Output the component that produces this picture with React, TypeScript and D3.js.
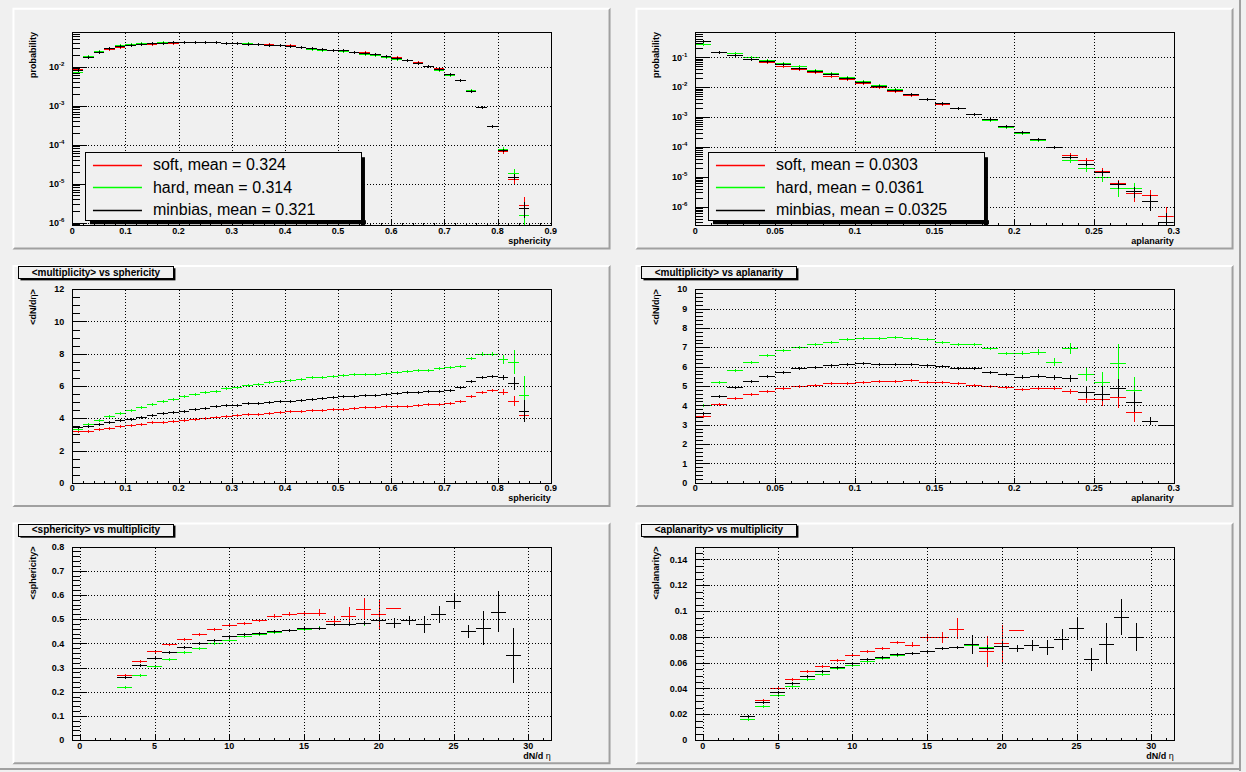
import React from 'react';
import * as d3 from 'd3';

const W = 1246;
const H = 772;
const BG = '#f0f0f0';
const DARK = '#a0a0a0';
const RED = '#ff0000';
const GREEN = '#00ff00';
const BLACK = '#000000';
const FONT = '"Liberation Sans", Arial, Helvetica, sans-serif';

// ---------- bin centres ----------
const sphCenters = [0.01,0.03,0.05,0.07,0.09,0.11,0.13,0.15,0.17,0.19,0.21,0.23,0.25,0.27,0.29,0.31,0.33,0.35,0.37,0.39,0.41,0.43,0.45,0.47,0.49,0.51,0.53,0.55,0.57,0.59,0.61,0.63,0.65,0.67,0.69,0.71,0.73,0.75,0.77,0.79,0.81,0.83,0.85];
const aplCenters = [0.005,0.015,0.025,0.035,0.045,0.055,0.065,0.075,0.085,0.095,0.105,0.115,0.125,0.135,0.145,0.155,0.165,0.175,0.185,0.195,0.205,0.215,0.225,0.235,0.245,0.255,0.265,0.275,0.285,0.295];
const multCenters = [3,4,5,6,7,8,9,10,11,12,13,14,15,16,17,18,19,20,21,22,23,24,25,26,27,28,29];

// ---------- panel 1: sphericity distribution ----------
const sphDistSoft = [0.0086,0.0176,0.0232,0.0283,0.0322,0.0350,0.0372,0.0387,0.0408,0.0410,0.0425,0.0427,0.0427,0.0425,0.0409,0.0397,0.0385,0.0376,0.0378,0.0357,0.0358,0.0328,0.0308,0.0290,0.0274,0.0262,0.0245,0.0240,0.0210,0.0185,0.0176,0.0146,0.0134,0.0107,0.0093,0.0066,0.00446,0.00243,0.00093,0.000295,0.000068,0.000013,0.0000028];
const sphDistHard = [0.0075,0.0186,0.0247,0.0305,0.0352,0.0378,0.0397,0.0415,0.0425,0.0424,0.0425,0.0427,0.0427,0.0425,0.0409,0.0397,0.0395,0.0385,0.0366,0.0357,0.0345,0.0312,0.0292,0.0276,0.0262,0.0250,0.0232,0.0216,0.0198,0.0178,0.0160,0.0146,0.0127,0.0105,0.0082,0.0061,0.00444,0.00250,0.00095,0.000305,0.000077,0.0000185,0.0000016];
const sphDistMin = [0.0080,0.0178,0.0245,0.0293,0.0338,0.0364,0.0385,0.0400,0.0414,0.0422,0.0425,0.0427,0.0427,0.0425,0.0409,0.0397,0.0385,0.0376,0.0366,0.0357,0.0345,0.0328,0.0308,0.0290,0.0274,0.0262,0.0245,0.0228,0.0210,0.0185,0.0166,0.0146,0.0127,0.0107,0.0087,0.0064,0.00445,0.00244,0.00094,0.000300,0.000071,0.000015,0.0000024];
const sphDistSoftRelErr = [0.02,0.01,0.01,0.01,0.01,0.01,0.01,0.01,0.01,0.01,0.01,0.01,0.01,0.01,0.01,0.01,0.01,0.01,0.01,0.01,0.01,0.01,0.01,0.01,0.01,0.01,0.01,0.01,0.01,0.01,0.01,0.01,0.01,0.01,0.01,0.01,0.015,0.02,0.04,0.07,0.15,0.3,0.6];
const sphDistHardRelErr = [0.02,0.01,0.01,0.01,0.01,0.01,0.01,0.01,0.01,0.01,0.01,0.01,0.01,0.01,0.01,0.01,0.01,0.01,0.01,0.01,0.01,0.01,0.01,0.01,0.01,0.01,0.01,0.01,0.01,0.01,0.01,0.01,0.01,0.01,0.01,0.01,0.02,0.02,0.04,0.07,0.12,0.25,0.7];
const sphDistMinRelErr = [0.02,0.01,0.01,0.01,0.01,0.01,0.01,0.01,0.01,0.01,0.01,0.01,0.01,0.01,0.01,0.01,0.01,0.01,0.01,0.01,0.01,0.01,0.01,0.01,0.01,0.01,0.01,0.01,0.01,0.01,0.01,0.01,0.01,0.01,0.01,0.01,0.015,0.02,0.03,0.05,0.08,0.18,0.45];

// ---------- panel 2: aplanarity distribution ----------
const aplDistSoft = [0.36,0.155,0.120,0.088,0.068,0.050,0.041,0.0322,0.0231,0.0188,0.0142,0.0104,0.0075,0.0057,0.0040,0.0028,0.00196,0.00124,0.00084,0.00051,0.000325,0.000185,0.0001,0.000054,0.0000356,0.000016,0.000006,0.00000295,0.0000024,0.00000049];
const aplDistHard = [0.272,0.155,0.136,0.105,0.081,0.066,0.0526,0.0377,0.0307,0.0226,0.0166,0.0122,0.0089,0.0059,0.0041,0.0030,0.00197,0.00125,0.00083,0.00048,0.000295,0.000165,0.0001,0.000037,0.00002,0.00001,0.0000041,0.0000041,null,null];
const aplDistMin = [0.34,0.155,0.117,0.089,0.075,0.058,0.0428,0.034,0.0277,0.0198,0.0149,0.0110,0.0079,0.0058,0.0040,0.0029,0.00196,0.00124,0.00084,0.00050,0.00031,0.00018,0.0001,0.000047,0.000028,0.000014,0.0000057,0.0000033,0.00000155,0.00000032];
const aplDistSoftRelErr = [0.01,0.01,0.01,0.01,0.01,0.01,0.01,0.01,0.01,0.01,0.01,0.01,0.01,0.01,0.01,0.01,0.01,0.01,0.01,0.01,0.01,0.01,0.05,0.15,0.17,0.22,0.35,0.5,0.5,1.0];
const aplDistHardRelErr = [0.01,0.01,0.01,0.01,0.01,0.01,0.01,0.01,0.01,0.01,0.01,0.01,0.01,0.01,0.01,0.01,0.01,0.01,0.01,0.01,0.05,0.08,0.1,0.2,0.28,0.33,0.5,0.5,0,0];
const aplDistMinRelErr = [0.01,0.01,0.01,0.01,0.01,0.01,0.01,0.01,0.01,0.01,0.01,0.01,0.01,0.01,0.01,0.01,0.01,0.01,0.01,0.01,0.01,0.03,0.05,0.12,0.2,0.25,0.3,0.4,0.55,1.0];

// ---------- panel 3: <multiplicity> vs sphericity ----------
const multSphSoft = [3.19,3.23,3.32,3.40,3.52,3.61,3.67,3.75,3.79,3.85,3.90,3.96,4.02,4.08,4.15,4.21,4.27,4.29,4.33,4.37,4.44,4.46,4.50,4.54,4.56,4.60,4.64,4.68,4.70,4.75,4.77,4.79,4.85,4.89,4.91,4.95,5.06,5.35,5.64,5.74,5.64,5.08,4.19];
const multSphHard = [3.36,3.67,3.90,4.15,4.33,4.50,4.70,4.89,5.06,5.20,5.39,5.49,5.62,5.70,5.87,5.95,6.05,6.13,6.22,6.32,6.38,6.45,6.53,6.57,6.63,6.69,6.72,6.76,6.76,6.82,6.86,6.92,6.98,6.98,7.11,7.17,7.25,7.71,7.98,7.98,7.65,7.50,5.47];
const multSphMin = [3.44,3.55,3.62,3.75,3.88,3.97,4.10,4.20,4.30,4.40,4.46,4.55,4.65,4.74,4.80,4.85,4.92,4.97,5.02,5.07,5.10,5.16,5.22,5.26,5.30,5.35,5.38,5.42,5.47,5.52,5.56,5.60,5.63,5.67,5.72,5.78,5.91,6.28,6.57,6.61,6.53,6.16,4.46];
const multSphSoftErr = [0.02,0.02,0.02,0.02,0.02,0.02,0.02,0.02,0.02,0.02,0.02,0.02,0.02,0.02,0.02,0.02,0.02,0.02,0.02,0.02,0.02,0.02,0.02,0.02,0.02,0.02,0.02,0.02,0.02,0.02,0.02,0.02,0.02,0.02,0.02,0.02,0.02,0.02,0.05,0.08,0.2,0.3,0.45];
const multSphHardErr = [0.02,0.02,0.02,0.02,0.02,0.02,0.02,0.02,0.02,0.02,0.02,0.02,0.02,0.02,0.02,0.02,0.02,0.02,0.02,0.02,0.02,0.02,0.02,0.02,0.02,0.02,0.02,0.02,0.02,0.02,0.02,0.02,0.02,0.02,0.02,0.02,0.04,0.06,0.1,0.15,0.3,0.73,1.14];
const multSphMinErr = [0.02,0.02,0.02,0.02,0.02,0.02,0.02,0.02,0.02,0.02,0.02,0.02,0.02,0.02,0.02,0.02,0.02,0.02,0.02,0.02,0.02,0.02,0.02,0.02,0.02,0.02,0.02,0.02,0.02,0.02,0.02,0.02,0.02,0.02,0.02,0.02,0.02,0.04,0.06,0.08,0.15,0.4,0.7];

// ---------- panel 4: <multiplicity> vs aplanarity ----------
const multAplSoft = [3.45,4.08,4.39,4.59,4.75,4.90,5.01,5.06,5.16,5.16,5.22,5.25,5.25,5.30,5.22,5.22,5.16,5.06,5.01,4.96,4.85,4.90,4.90,4.72,4.32,4.32,4.44,3.66,null,null];
const multAplHard = [4.04,5.22,5.84,6.25,6.58,6.84,7.03,7.18,7.29,7.41,7.46,7.46,7.51,7.46,7.41,7.29,7.15,7.18,6.98,6.72,6.72,6.77,6.25,6.94,5.61,5.22,6.20,4.80,null,null];
const multAplMin = [3.59,4.49,4.97,5.27,5.53,5.73,5.91,5.99,6.10,6.15,6.20,6.15,6.15,6.15,6.10,6.04,5.91,5.91,5.72,5.60,5.49,5.53,5.44,5.39,4.70,4.61,4.90,4.18,3.20,3.00];
const multAplSoftErr = [0.02,0.02,0.02,0.02,0.02,0.02,0.02,0.02,0.02,0.02,0.02,0.02,0.02,0.02,0.02,0.02,0.02,0.02,0.02,0.02,0.02,0.06,0.1,0.15,0.2,0.35,0.6,0.5,0,0];
const multAplHardErr = [0.02,0.02,0.02,0.02,0.02,0.02,0.02,0.02,0.02,0.02,0.02,0.02,0.02,0.02,0.02,0.02,0.02,0.02,0.05,0.06,0.1,0.15,0.2,0.3,0.35,0.5,0.95,0.65,0,0];
const multAplMinErr = [0.02,0.02,0.02,0.02,0.02,0.02,0.02,0.02,0.02,0.02,0.02,0.02,0.02,0.02,0.02,0.02,0.02,0.02,0.02,0.06,0.07,0.1,0.15,0.2,0.3,0.4,0.45,0.5,0.2,0];

// ---------- panel 5: <sphericity> vs multiplicity ----------
const sphMultSoft = [0.269,0.329,0.367,0.399,0.419,0.440,0.458,0.474,0.485,0.498,0.515,0.520,0.524,0.526,0.493,0.515,0.543,0.520,0.548];
const sphMultHard = [0.218,0.271,0.308,0.337,0.363,0.382,0.400,0.415,0.429,0.437,0.445,0.454,0.460,0.465,0.480,0.478,0.483];
const sphMultMin = [0.262,0.309,0.341,0.366,0.385,0.403,0.415,0.429,0.437,0.444,0.452,0.456,0.462,0.465,0.481,0.481,0.485,0.498,0.485,0.495,0.478,0.520,0.576,0.449,0.465,0.531,0.350];
const sphMultSoftErr = [0.002,0.002,0.002,0.002,0.002,0.002,0.002,0.003,0.003,0.004,0.006,0.008,0.01,0.015,0.018,0.035,0.045,0.065,0];
const sphMultHardErr = [0.002,0.002,0.002,0.002,0.002,0.002,0.002,0.002,0.002,0.002,0.003,0.003,0.004,0.005,0.006,0.008,0.01];
const sphMultMinErr = [0.002,0.002,0.002,0.002,0.002,0.002,0.002,0.002,0.002,0.002,0.002,0.002,0.003,0.004,0.005,0.008,0.008,0.01,0.02,0.02,0.035,0.035,0.03,0.025,0.07,0.085,0.115];

// ---------- panel 6: <aplanarity> vs multiplicity ----------
const aplMultSoft = [0.0189,0.0307,0.0400,0.0473,0.0532,0.0576,0.0617,0.0656,0.0687,0.0710,0.0757,0.0739,0.0796,0.0796,0.0863,null,0.0687,0.0749,0.0850];
const aplMultHard = [0.0160,0.0261,0.0346,0.0416,0.0473,0.0509,0.0555,0.0579,0.0612,0.0635,0.0659,0.0674,0.0687,0.0710,0.0721,0.0735,0.0725];
const aplMultMin = [0.0183,0.0292,0.0375,0.0442,0.0493,0.0532,0.0568,0.0597,0.0625,0.0641,0.0664,0.0674,0.0687,0.0710,0.0721,0.0741,0.0716,0.0728,0.0710,0.0734,0.0718,0.0780,0.0865,0.0625,0.0747,0.0951,0.0801];
const aplMultSoftErr = [0.0003,0.0003,0.0003,0.0003,0.0003,0.0003,0.0003,0.0003,0.0003,0.0003,0.001,0.002,0.003,0.004,0.008,0,0.012,0.014,0];
const aplMultHardErr = [0.0003,0.0003,0.0003,0.0003,0.0003,0.0003,0.0003,0.0003,0.0003,0.0003,0.0003,0.0003,0.0005,0.0006,0.0008,0.001,0.0015];
const aplMultMinErr = [0.0003,0.0003,0.0003,0.0003,0.0003,0.0003,0.0003,0.0003,0.0003,0.0003,0.0003,0.0003,0.0003,0.0005,0.0008,0.007,0.002,0.003,0.003,0.004,0.006,0.008,0.009,0.009,0.016,0.014,0.011];

// ---------- axis labels ----------
const sphTicks = [0,0.1,0.2,0.3,0.4,0.5,0.6,0.7,0.8,0.9];
const sphTickLabels = ['0','0.1','0.2','0.3','0.4','0.5','0.6','0.7','0.8','0.9'];
const aplTicks = [0,0.05,0.1,0.15,0.2,0.25,0.3];
const aplTickLabels = ['0','0.05','0.1','0.15','0.2','0.25','0.3'];
const multTicks = [0,5,10,15,20,25,30];
const multTickLabels = ['0','5','10','15','20','25','30'];
const logTicks1 = [1e-6,1e-5,1e-4,1e-3,1e-2];
const logExp1 = ['-6','-5','-4','-3','-2'];
const logTicks2 = [1e-6,1e-5,1e-4,1e-3,1e-2,1e-1];
const logExp2 = ['-6','-5','-4','-3','-2','-1'];
const mult12Ticks = [0,2,4,6,8,10,12];
const mult10Ticks = [0,1,2,3,4,5,6,7,8,9,10];
const sphMeanTicks = [0,0.1,0.2,0.3,0.4,0.5,0.6,0.7,0.8];
const sphMeanLabels = ['0','0.1','0.2','0.3','0.4','0.5','0.6','0.7','0.8'];
const aplMeanTicks = [0,0.02,0.04,0.06,0.08,0.1,0.12,0.14];
const aplMeanLabels = ['0','0.02','0.04','0.06','0.08','0.1','0.12','0.14'];
const legend1 = ['soft, mean = 0.324','hard, mean = 0.314','minbias, mean = 0.321'];
const legend2 = ['soft, mean = 0.0303','hard, mean = 0.0361','minbias, mean = 0.0325'];
const seriesColors = [RED, GREEN, BLACK];

interface Series { centers: number[]; values: (number | null)[]; errors: number[]; rel?: boolean; color: string; }
interface PanelProps {
  col: number; row: number;
  xDomain: [number, number]; binWidth: number;
  xMajor: number[]; xLabels: string[]; xMinorStep: number; xTitle: React.ReactNode;
  yDomain: [number, number]; logY?: boolean;
  yMajor: number[]; yLabels: React.ReactNode[]; yMinorStep?: number; yTitle: React.ReactNode;
  series: Series[]; title?: string; legend?: string[];
}

const cr = (v: number) => Math.round(v) + 0.5;

function linTicks(d: [number, number], step: number) {
  const out: number[] = [];
  const start = Math.ceil(d[0] / step - 1e-9);
  const end = Math.floor(d[1] / step + 1e-9);
  for (let i = start; i <= end; i++) out.push(+(i * step).toFixed(10));
  return out;
}

function logMinor(d: [number, number]) {
  const out: number[] = [];
  for (let e = Math.floor(Math.log10(d[0])); e <= Math.ceil(Math.log10(d[1])); e++) {
    for (let k = 2; k <= 9; k++) {
      const v = k * Math.pow(10, e);
      if (v >= d[0] && v <= d[1]) out.push(v);
    }
  }
  return out;
}

function Panel(p: PanelProps) {
  const pw = 0.48 * W;
  const ph = H * (1 / 3 - 0.02);
  const px = W * (p.col === 0 ? 0.01 : 0.51);
  const py = H * (p.row / 3 + 0.01);
  const fx0 = px + 0.1 * pw, fx1 = px + 0.9 * pw;
  const fy0 = py + 0.1 * ph, fy1 = py + 0.9 * ph;
  const x = d3.scaleLinear().domain(p.xDomain).range([fx0, fx1]);
  const y: any = p.logY
    ? d3.scaleLog().domain(p.yDomain).range([fy1, fy0])
    : d3.scaleLinear().domain(p.yDomain).range([fy1, fy0]);
  const clipId = `clip-${p.row}-${p.col}`;
  const xTickLen = 0.03 * (fy1 - fy0);
  const yTickLen = 0.03 * (fx1 - fx0);
  const xMinor = linTicks(p.xDomain, p.xMinorStep);
  const yMinor = p.logY ? logMinor(p.yDomain) : linTicks(p.yDomain, p.yMinorStep || 1);
  const L = Math.round(fx0) + 0.5, R = Math.round(fx1) + 0.5, T = Math.round(fy0) + 0.5, B = Math.round(fy1) + 0.5;

  return (
    <g>
      {/* pad */}
      <rect x={px} y={py} width={pw} height={ph} fill={BG} />
      <path d={`M${px},${py}h${pw}l-2,2h${-(pw - 4)}v${ph - 4}l-2,2z`} fill="#ffffff" />
      <path d={`M${px + pw},${py + ph}h${-pw}l2,-2h${pw - 4}v${-(ph - 4)}l2,-2z`} fill={DARK} />
      <defs>
        <clipPath id={clipId}><rect x={fx0} y={fy0} width={fx1 - fx0} height={fy1 - fy0} /></clipPath>
      </defs>
      {/* series */}
      <g clipPath={`url(#${clipId})`} fill="none" strokeWidth={1} shapeRendering="crispEdges">
        {p.series.map((s, si) => (
          <g key={si} stroke={s.color}>
            {s.values.map((v, i) => {
              if (v == null) return null;
              const c = s.centers[i];
              const e = s.rel ? v * s.errors[i] : s.errors[i];
              const yv = cr(y(v));
              const xl = x(c - p.binWidth / 2), xr = x(c + p.binWidth / 2), xc = cr(x(c));
              let yTop = y(v + e);
              let yBot = v - e > p.yDomain[0] ? y(v - e) : fy1 + 2;
              if (e > 0) {
                yTop = Math.min(yTop, yv - 1.5);
                yBot = Math.max(yBot, yv + 1.5);
              }
              return (
                <g key={i}>
                  <line x1={Math.round(xl)} x2={Math.round(xr)} y1={yv} y2={yv} />
                  {e > 0 && <line x1={xc} x2={xc} y1={Math.round(yTop)} y2={Math.round(yBot)} />}
                </g>
              );
            })}
          </g>
        ))}
      </g>
      {/* grid */}
      <g stroke="#000" strokeWidth={1} strokeDasharray="1 2" shapeRendering="crispEdges">
        {p.xMajor.map((v, i) => (
          <line key={'gx' + i} x1={cr(x(v))} x2={cr(x(v))} y1={T} y2={B} />
        ))}
        {p.yMajor.map((v, i) => (
          <line key={'gy' + i} x1={L} x2={R} y1={cr(y(v))} y2={cr(y(v))} />
        ))}
      </g>
      {/* frame */}
      <rect x={L} y={T} width={R - L} height={B - T} fill="none" stroke="#000" strokeWidth={1} shapeRendering="crispEdges" />
      {/* ticks */}
      <g stroke="#000" strokeWidth={1} shapeRendering="crispEdges">
        {xMinor.map((v, i) => (
          <line key={'xm' + i} x1={cr(x(v))} x2={cr(x(v))} y1={B} y2={B - xTickLen / 2} />
        ))}
        {p.xMajor.map((v, i) => (
          <line key={'xM' + i} x1={cr(x(v))} x2={cr(x(v))} y1={B} y2={B - xTickLen} />
        ))}
        {yMinor.map((v, i) => (
          <line key={'ym' + i} x1={L} x2={L + yTickLen / 2} y1={cr(y(v))} y2={cr(y(v))} />
        ))}
        {p.yMajor.map((v, i) => (
          <line key={'yM' + i} x1={L} x2={L + yTickLen} y1={cr(y(v))} y2={cr(y(v))} />
        ))}
      </g>
      {/* labels */}
      <g fontFamily={FONT} fontWeight="bold" fontSize={9} fill="#000">
        {p.xMajor.map((v, i) => (
          <text key={'xl' + i} x={x(v)} y={fy1 + 8.5} textAnchor="middle">{p.xLabels[i]}</text>
        ))}
        {p.yMajor.map((v, i) => (
          <text key={'yl' + i} x={fx0 - 8} y={y(v) + 3.2} textAnchor="end">{p.yLabels[i]}</text>
        ))}
        <text x={fx1} y={fy1 + 18.5} textAnchor="end">{p.xTitle}</text>
        <text transform={`translate(${px + 24},${fy0}) rotate(-90)`} textAnchor="end">{p.yTitle}</text>
      </g>
      {/* title */}
      {p.title && (() => {
        const bx = px + 0.01 * pw, by = py + 0.005 * ph, bw = 155, bh = 0.05 * ph;
        return (
          <g>
            <rect x={bx + 2} y={by + 2} width={bw} height={bh} fill="#000" />
            <rect x={Math.round(bx) + 0.5} y={Math.round(by) + 0.5} width={bw} height={Math.round(bh)} fill={BG} stroke="#000" strokeWidth={1} shapeRendering="crispEdges" />
            <text x={bx + bw / 2} y={by + bh / 2 + 3.7} textAnchor="middle" fontFamily={FONT} fontWeight="bold" fontSize={10}>{p.title}</text>
          </g>
        );
      })()}
      {/* legend */}
      {p.legend && (() => {
        const bx0 = px + 72.5, bx1 = px + 348.5, by0 = py + 144.5, by1 = py + 212.5;
        const rowH = (by1 - by0) / 3;
        return (
          <g>
            <rect x={bx0 + 5} y={by1} width={bx1 - bx0} height={4} fill="#000" />
            <rect x={bx1} y={by0 + 5} width={4} height={by1 - by0} fill="#000" />
            <rect x={Math.round(bx0) + 0.5} y={Math.round(by0) + 0.5} width={Math.round(bx1 - bx0)} height={Math.round(by1 - by0)} fill={BG} stroke="#000" strokeWidth={1} shapeRendering="crispEdges" />
            {p.legend.map((t, i) => {
              const cy = by0 + rowH * (i + 0.5) + 1;
              return (
                <g key={i}>
                  <line x1={bx0 + 8} x2={bx0 + 57} y1={cr(cy)} y2={cr(cy)} stroke={seriesColors[i]} strokeWidth={1.3} />
                  <text x={bx0 + 68} y={cy + 5.6} fontFamily={FONT} fontSize={16} fill="#000">{t}</text>
                </g>
              );
            })}
          </g>
        );
      })()}
    </g>
  );
}

function mk(centers: number[], vals: (number | null)[], errs: number[], color: string, rel = false): Series {
  return { centers, values: vals, errors: errs, color, rel };
}

const pow10 = (e: string) => (
  <>
    10<tspan fontSize={6} dy={-4}>{e}</tspan>
  </>
);

const eta = <tspan fontWeight="normal">η</tspan>;

export default function App() {
  return (
    <div style={{ position: 'fixed', left: 0, top: 0, width: W, height: H }}>
      <svg width={W} height={H} viewBox={`0 0 ${W} ${H}`} style={{ display: 'block' }}>
        <rect x={0} y={0} width={W} height={H} fill={BG} />
        <rect x={1239} y={0} width={2} height={771} fill={DARK} />
        <rect x={0} y={768} width={1241} height={2} fill={DARK} />
        <Panel
          col={0} row={0}
          xDomain={[0, 0.9]} binWidth={0.02}
          xMajor={sphTicks} xLabels={sphTickLabels} xMinorStep={0.02} xTitle="sphericity"
          yDomain={[8.5e-7, 0.078]} logY
          yMajor={logTicks1} yLabels={logExp1.map(pow10)} yTitle="probability"
          series={[
            mk(sphCenters, sphDistSoft, sphDistSoftRelErr, RED, true),
            mk(sphCenters, sphDistHard, sphDistHardRelErr, GREEN, true),
            mk(sphCenters, sphDistMin, sphDistMinRelErr, BLACK, true),
          ]}
          legend={legend1}
        />
        <Panel
          col={1} row={0}
          xDomain={[0, 0.3]} binWidth={0.01}
          xMajor={aplTicks} xLabels={aplTickLabels} xMinorStep={0.01} xTitle="aplanarity"
          yDomain={[2.37e-7, 0.71]} logY
          yMajor={logTicks2} yLabels={logExp2.map(pow10)} yTitle="probability"
          series={[
            mk(aplCenters, aplDistSoft, aplDistSoftRelErr, RED, true),
            mk(aplCenters, aplDistHard, aplDistHardRelErr, GREEN, true),
            mk(aplCenters, aplDistMin, aplDistMinRelErr, BLACK, true),
          ]}
          legend={legend2}
        />
        <Panel
          col={0} row={1}
          xDomain={[0, 0.9]} binWidth={0.02}
          xMajor={sphTicks} xLabels={sphTickLabels} xMinorStep={0.02} xTitle="sphericity"
          yDomain={[0, 12]} yMinorStep={0.5}
          yMajor={mult12Ticks} yLabels={mult12Ticks.map(String)} yTitle={<>&lt;dN/d{eta}&gt;</>}
          series={[
            mk(sphCenters, multSphSoft, multSphSoftErr, RED),
            mk(sphCenters, multSphHard, multSphHardErr, GREEN),
            mk(sphCenters, multSphMin, multSphMinErr, BLACK),
          ]}
          title="<multiplicity> vs sphericity"
        />
        <Panel
          col={1} row={1}
          xDomain={[0, 0.3]} binWidth={0.01}
          xMajor={aplTicks} xLabels={aplTickLabels} xMinorStep={0.01} xTitle="aplanarity"
          yDomain={[0, 10]} yMinorStep={0.2}
          yMajor={mult10Ticks} yLabels={mult10Ticks.map(String)} yTitle={<>&lt;dN/d{eta}&gt;</>}
          series={[
            mk(aplCenters, multAplSoft, multAplSoftErr, RED),
            mk(aplCenters, multAplHard, multAplHardErr, GREEN),
            mk(aplCenters, multAplMin, multAplMinErr, BLACK),
          ]}
          title="<multiplicity> vs aplanarity"
        />
        <Panel
          col={0} row={2}
          xDomain={[-0.5, 31.5]} binWidth={1}
          xMajor={multTicks} xLabels={multTickLabels} xMinorStep={1} xTitle={<>dN/d {eta}</>}
          yDomain={[0, 0.8]} yMinorStep={0.02}
          yMajor={sphMeanTicks} yLabels={sphMeanLabels} yTitle="<sphericity>"
          series={[
            mk(multCenters, sphMultSoft, sphMultSoftErr, RED),
            mk(multCenters, sphMultHard, sphMultHardErr, GREEN),
            mk(multCenters, sphMultMin, sphMultMinErr, BLACK),
          ]}
          title="<sphericity> vs multiplicity"
        />
        <Panel
          col={1} row={2}
          xDomain={[-0.5, 31.5]} binWidth={1}
          xMajor={multTicks} xLabels={multTickLabels} xMinorStep={1} xTitle={<>dN/d {eta}</>}
          yDomain={[0, 0.15]} yMinorStep={0.005}
          yMajor={aplMeanTicks} yLabels={aplMeanLabels} yTitle="<aplanarity>"
          series={[
            mk(multCenters, aplMultSoft, aplMultSoftErr, RED),
            mk(multCenters, aplMultHard, aplMultHardErr, GREEN),
            mk(multCenters, aplMultMin, aplMultMinErr, BLACK),
          ]}
          title="<aplanarity> vs multiplicity"
        />
      </svg>
    </div>
  );
}
